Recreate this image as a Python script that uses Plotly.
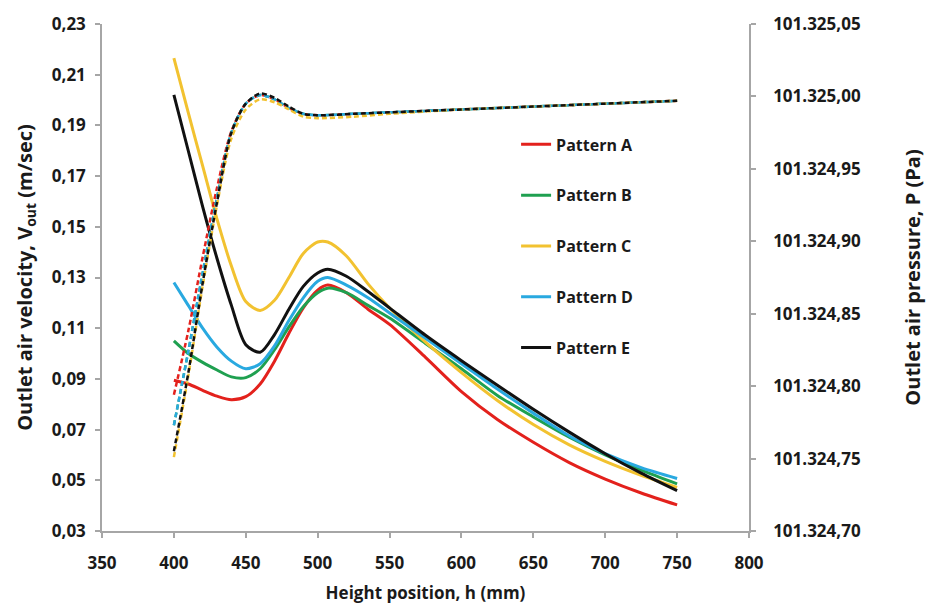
import plotly.graph_objects as go

# ---------------- data ----------------
h_vel = [400, 410, 420, 430, 440, 450, 460, 470, 480, 490, 500, 507, 520, 535, 550,
         575, 600, 625, 650, 675, 700, 725, 750]

vel_A = [0.0895, 0.0880, 0.0855, 0.0832, 0.0818, 0.0830, 0.0880, 0.0970, 0.1080, 0.1180,
         0.1250, 0.1270, 0.1240, 0.1175, 0.1115, 0.0985, 0.0850, 0.0740, 0.0650, 0.0570,
         0.0505, 0.0450, 0.0403]
vel_B = [0.1050, 0.1000, 0.0965, 0.0935, 0.0908, 0.0905, 0.0940, 0.1015, 0.1105, 0.1185,
         0.1240, 0.1258, 0.1240, 0.1190, 0.1140, 0.1040, 0.0940, 0.0835, 0.0750, 0.0670,
         0.0600, 0.0540, 0.0486]
vel_C = [0.2165, 0.1950, 0.1740, 0.1530, 0.1345, 0.1205, 0.1170, 0.1210, 0.1300, 0.1395,
         0.1440, 0.1440, 0.1385, 0.1275, 0.1180, 0.1045, 0.0925, 0.0815, 0.0720, 0.0640,
         0.0575, 0.0520, 0.0472]
vel_D = [0.1280, 0.1190, 0.1100, 0.1025, 0.0970, 0.0940, 0.0960, 0.1030, 0.1130, 0.1220,
         0.1285, 0.1300, 0.1270, 0.1220, 0.1160, 0.1060, 0.0960, 0.0860, 0.0765, 0.0675,
         0.0605, 0.0550, 0.0507]
vel_E = [0.2020, 0.1800, 0.1580, 0.1375, 0.1190, 0.1035, 0.1005, 0.1075, 0.1175, 0.1265,
         0.1318, 0.1333, 0.1305, 0.1245, 0.1180, 0.1072, 0.0972, 0.0875, 0.0780, 0.0690,
         0.0605, 0.0528, 0.0459]

h_p = [400, 410, 420, 430, 440, 450, 460, 470, 480, 490, 500, 525, 550, 600, 650, 700, 750]

p_A = [101324.794, 101324.838, 101324.889, 101324.937, 101324.976, 101324.995, 101325.001,
       101324.998, 101324.992, 101324.988, 101324.987, 101324.988, 101324.989, 101324.991,
       101324.993, 101324.995, 101324.997]
p_B = [101324.773, 101324.824, 101324.878, 101324.930, 101324.975, 101324.995, 101325.001,
       101324.998, 101324.992, 101324.988, 101324.987, 101324.988, 101324.989, 101324.991,
       101324.993, 101324.995, 101324.997]
p_C = [101324.751, 101324.807, 101324.869, 101324.925, 101324.971, 101324.991, 101324.998,
       101324.996, 101324.991, 101324.986, 101324.985, 101324.986, 101324.988, 101324.991,
       101324.993, 101324.995, 101324.997]
p_D = [101324.773, 101324.824, 101324.878, 101324.930, 101324.975, 101324.995, 101325.001,
       101324.998, 101324.992, 101324.988, 101324.987, 101324.988, 101324.989, 101324.991,
       101324.993, 101324.995, 101324.997]
p_E = [101324.755, 101324.809, 101324.871, 101324.927, 101324.975, 101324.995, 101325.002,
       101324.999, 101324.993, 101324.988, 101324.987, 101324.988, 101324.989, 101324.991,
       101324.993, 101324.995, 101324.997]

names = ["Pattern A", "Pattern B", "Pattern C", "Pattern D", "Pattern E"]
colors = ["#E3211C", "#1FA050", "#F2C230", "#29A9E0", "#111111"]
vels = [vel_A, vel_B, vel_C, vel_D, vel_E]
press = [p_A, p_B, p_C, p_D, p_E]

# ---------------- figure ----------------
FONT = "Open Sans"
fig = go.Figure()

# dashed pressure curves (right axis)
for i in [0, 1, 3, 2, 4]:
    fig.add_trace(go.Scatter(
        x=h_p, y=press[i], yaxis="y2", mode="lines",
        line=dict(color=colors[i], width=2.5, dash="5px,3px", shape="spline", smoothing=0.8),
        showlegend=False, hoverinfo="skip"))

# solid velocity curves (left axis)
for i in range(5):
    fig.add_trace(go.Scatter(
        x=h_vel, y=vels[i], mode="lines", name=names[i], legendgroup=names[i],
        line=dict(color=colors[i], width=3, shape="spline", smoothing=0.8)))

axis_col = "#A6A6A6"
tick_font = dict(family=FONT, size=17, color="#1a1a1a", weight="bold")
xtitle_font = dict(family=FONT, size=17, color="#1a1a1a", weight="bold")
ytitle_font = dict(family=FONT, size=20, color="#1a1a1a", weight="bold")

fig.update_layout(
    width=933, height=612,
    margin=dict(l=102, r=181, t=20, b=76),
    paper_bgcolor="white", plot_bgcolor="white",
    separators=",.",
    font=dict(family=FONT, color="#1a1a1a"),
    xaxis=dict(
        range=[350, 800], dtick=50, tick0=350, showgrid=False, zeroline=False,
        showline=True, linecolor=axis_col, linewidth=1.5,
        ticks="outside", ticklen=5, tickcolor=axis_col, tickwidth=1.5,
        tickfont=tick_font, ticklabelstandoff=11,
        title=dict(text="Height position, h (mm)", font=xtitle_font, standoff=14),
    ),
    yaxis=dict(
        range=[0.03, 0.23], dtick=0.02, tick0=0.03, tickformat=".2f",
        showgrid=False, zeroline=False,
        showline=True, linecolor=axis_col, linewidth=1.5,
        ticks="outside", ticklen=5, tickcolor=axis_col, tickwidth=1.5,
        tickfont=tick_font, ticklabelstandoff=6,
        title=dict(text="Outlet air velocity, V<sub>out</sub> (m/sec)", font=ytitle_font, standoff=14),
    ),
    yaxis2=dict(
        range=[101324.70, 101325.05], dtick=0.05, tick0=101324.70, tickformat=",.2f",
        overlaying="y", side="right", showgrid=False, zeroline=False,
        showline=True, linecolor=axis_col, linewidth=1.5,
        ticks="outside", ticklen=5, tickcolor=axis_col, tickwidth=1.5,
        tickfont=tick_font, ticklabelstandoff=14,
        title=dict(text="Outlet air pressure, P (Pa)", font=ytitle_font, standoff=46),
    ),
    legend=dict(
        x=0.64, y=0.796, xanchor="left", yanchor="top",
        bgcolor="rgba(0,0,0,0)", borderwidth=0,
        font=dict(family=FONT, size=16, color="#1a1a1a", weight="bold"),
        tracegroupgap=27, itemwidth=30,
    ),
)

fig.write_html("out.html")
